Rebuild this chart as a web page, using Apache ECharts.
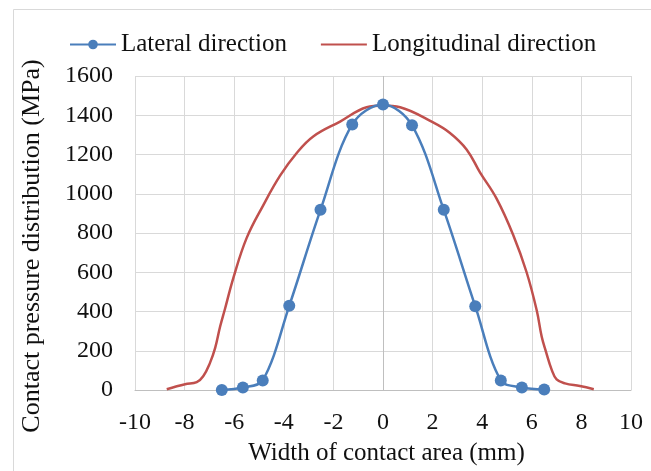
<!DOCTYPE html>
<html>
<head>
<meta charset="utf-8">
<script src="https://cdn.jsdelivr.net/npm/echarts@6/dist/echarts.min.js"></script>
<style>
  html, body { margin: 0; padding: 0; background: #fff; }
  #chart { width: 651px; height: 471px; }
</style>
</head>
<body>
<div id="chart"></div>
<script>
// Contact pressure across the contact patch, measured in two directions.
// Lateral direction: measured points [width (mm), pressure (MPa)]
const lateralWidth    = [-6.5, -5.65, -4.85, -3.78, -2.52, -1.24, 0, 1.17, 2.45, 3.72, 4.75, 5.6, 6.5];
const lateralPressure = [0, 13, 49, 429, 918, 1353, 1455, 1349, 918, 427, 49, 13, 2];

// Longitudinal direction: profile [width (mm), pressure (MPa)]
const longitudinalWidth = [
  -8.72, -7.98, -7.51, -7.25, -6.98, -6.77, -6.57, -6.37, -6.03, -5.5,
  -4.83, -4.15, -3.47, -2.8, -1.73, -0.66, 0, 0.69, 2.0, 2.7,
  3.37, 3.91, 4.58, 5.25, 5.79, 6.2, 6.4, 6.57, 6.8, 7.0,
  7.34, 7.94, 8.5
];
const longitudinalPressure = [
  4, 29, 40, 70, 137, 213, 322, 414, 573, 774,
  941, 1092, 1209, 1293, 1368, 1441, 1450, 1441, 1365, 1310,
  1226, 1109, 975, 790, 600, 405, 271, 196, 104, 54,
  34, 20, 4
];

const seriesNames = ['Lateral direction', 'Longitudinal direction'];
const xAxisTitle = 'Width of contact area (mm)';
const yAxisTitle = 'Contact pressure distribution (MPa)';

const pair = (xs, ys) => xs.map((x, i) => [x, ys[i]]);

const FONT = '"Liberation Serif", "Times New Roman", serif';
const TEXT = '#111';
const GRID_LINE = '#d9d9d9';
const AXIS_LINE = '#bfbfbf';
const BLUE = '#4A7EBB';
const RED = '#C0504D';

const chart = echarts.init(document.getElementById('chart'), null, { renderer: 'canvas' });

chart.setOption({
  animation: false,
  backgroundColor: '#fff',
  textStyle: { fontFamily: FONT, color: TEXT },
  graphic: [{
    type: 'rect',
    left: 11, top: 7,
    shape: { width: 700, height: 520 },
    style: { fill: 'none', stroke: GRID_LINE, lineWidth: 1 },
    silent: true,
    z: -10
  }],
  legend: {
    left: 64,
    top: 27,
    itemWidth: 46,
    itemHeight: 12,
    itemGap: 33,
    textStyle: { fontFamily: FONT, fontSize: 25, color: TEXT },
    data: [
      seriesNames[0],
      // plain line key for the unmarked profile
      { name: seriesNames[1], itemStyle: { opacity: 0 } }
    ]
  },
  grid: { left: 135, right: 20, top: 76, bottom: 77, containLabel: false },
  xAxis: {
    type: 'value',
    min: -10, max: 10, interval: 2,
    name: xAxisTitle,
    nameLocation: 'middle',
    nameGap: 51,
    nameTextStyle: { fontFamily: FONT, fontSize: 25, color: TEXT, padding: [0, 0, 0, 7] },
    axisLine: { show: true, onZero: false, lineStyle: { color: AXIS_LINE, width: 1 } },
    axisTick: { show: false },
    axisLabel: { margin: 21, fontFamily: FONT, fontSize: 24, color: TEXT },
    splitLine: { show: true, lineStyle: { color: GRID_LINE, width: 1 } }
  },
  yAxis: {
    type: 'value',
    min: 0, max: 1600, interval: 200,
    name: yAxisTitle,
    nameLocation: 'middle',
    nameGap: 90,
    nameRotate: 90,
    nameTextStyle: { fontFamily: FONT, fontSize: 26, color: TEXT, padding: [0, 26, 0, 0] },
    axisLine: { show: false },
    axisTick: { show: false },
    axisLabel: {
      margin: 22, fontFamily: FONT, fontSize: 24, color: TEXT,
      formatter: (v) => String(v)
    },
    splitLine: { show: true, lineStyle: { color: GRID_LINE, width: 1 } }
  },
  series: [
    {
      name: seriesNames[1],
      type: 'line',
      data: pair(longitudinalWidth, longitudinalPressure),
      smooth: 0.4,
      symbol: 'none',
      color: RED,
      lineStyle: { color: RED, width: 2.5 },
      z: 2,
      markLine: {
        silent: true,
        symbol: 'none',
        label: { show: false },
        lineStyle: { color: AXIS_LINE, width: 1, type: 'solid' },
        data: [{ xAxis: 0 }],
        z: 1
      }
    },
    {
      name: seriesNames[0],
      type: 'line',
      data: pair(lateralWidth, lateralPressure),
      smooth: 0.35,
      symbol: 'circle',
      symbolSize: 12,
      color: BLUE,
      itemStyle: { color: BLUE },
      lineStyle: { color: BLUE, width: 2.5 },
      z: 3
    }
  ]
});
</script>
</body>
</html>
